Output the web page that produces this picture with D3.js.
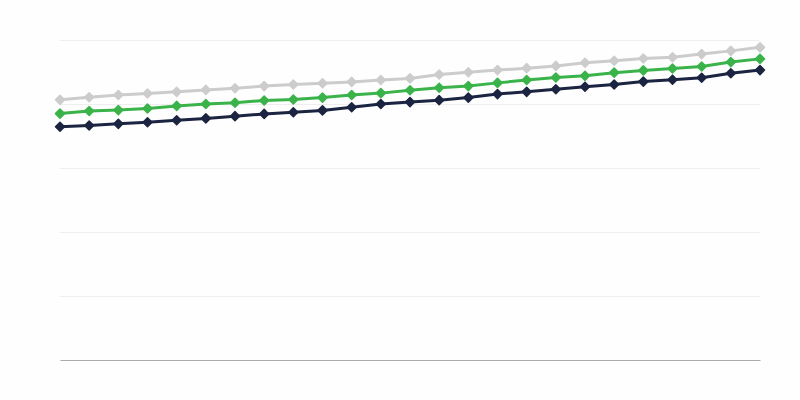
<!DOCTYPE html>
<html>
<head>
<meta charset="utf-8">
<script src="https://cdn.jsdelivr.net/npm/d3@7/dist/d3.min.js"></script>
<style>
  html, body { margin: 0; padding: 0; background: #fefefe; }
  svg { display: block; }
</style>
</head>
<body>
<div id="chart"></div>
<script>
// Data (25 periods, value scale 0-100)
var periods = d3.range(25);
var grayValues  = [81.3, 82.1, 82.8, 83.3, 83.8, 84.4, 84.9, 85.6, 86.1, 86.5, 86.9, 87.5, 88.0,
                   89.2, 89.9, 90.6, 91.2, 91.9, 92.9, 93.5, 94.2, 94.6, 95.6, 96.6, 97.7];
var greenValues = [77.0, 77.8, 78.1, 78.6, 79.4, 80.0, 80.4, 81.1, 81.4, 82.0, 82.8, 83.4, 84.3,
                   85.1, 85.6, 86.6, 87.5, 88.3, 88.8, 89.8, 90.5, 91.1, 91.7, 93.1, 94.1];
var navyValues  = [72.9, 73.3, 73.8, 74.3, 74.9, 75.5, 76.2, 76.9, 77.4, 78.0, 79.0, 80.0, 80.6,
                   81.2, 82.0, 83.1, 83.8, 84.6, 85.4, 86.1, 87.0, 87.6, 88.2, 89.6, 90.6];
var yTicks = [0, 20, 40, 60, 80, 100];

var series = [
  {name: 'gray',  values: grayValues,  color: '#cccccc'},
  {name: 'green', values: greenValues, color: '#3ab34a'},
  {name: 'navy',  values: navyValues,  color: '#1b2441'}
];

var width = 800, height = 400;
var margin = {top: 40, right: 40, bottom: 40, left: 60};

var svg = d3.select('#chart').append('svg')
  .attr('width', width)
  .attr('height', height);

var x = d3.scaleLinear()
  .domain([0, periods.length - 1])
  .range([margin.left, width - margin.right]);

var y = d3.scaleLinear()
  .domain([0, 100])
  .range([height - margin.bottom, margin.top]);

// Horizontal gridlines
svg.append('g')
  .attr('transform', 'translate(' + margin.left + ',0)')
  .call(d3.axisLeft(y).tickValues(yTicks).tickSize(-(width - margin.left - margin.right)).tickFormat(''))
  .call(function(g) {
    g.select('.domain').remove();
    g.selectAll('.tick line').attr('stroke', '#eeeeee').attr('stroke-width', 1);
  });

// Baseline
svg.append('g')
  .attr('transform', 'translate(0,' + y(0) + ')')
  .call(d3.axisBottom(x).tickValues([]).tickSizeOuter(0))
  .call(function(g) {
    g.select('.domain').attr('stroke', '#aaaaaa').attr('stroke-width', 1);
  });

var line = d3.line()
  .x(function(d, i) { return x(periods[i]); })
  .y(function(d) { return y(d); });

var diamond = d3.symbol().type(d3.symbolDiamond2).size(52);

series.forEach(function(s) {
  var g = svg.append('g');

  g.append('path')
    .datum(s.values)
    .attr('fill', 'none')
    .attr('stroke', s.color)
    .attr('stroke-width', 3)
    .attr('stroke-linejoin', 'round')
    .attr('d', line);

  g.selectAll('path.pt')
    .data(s.values)
    .enter()
    .append('path')
    .attr('class', 'pt')
    .attr('fill', s.color)
    .attr('stroke', s.color)
    .attr('stroke-width', 1.5)
    .attr('stroke-linejoin', 'round')
    .attr('transform', function(d, i) { return 'translate(' + x(periods[i]) + ',' + y(d) + ')'; })
    .attr('d', diamond);
});
</script>
</body>
</html>
